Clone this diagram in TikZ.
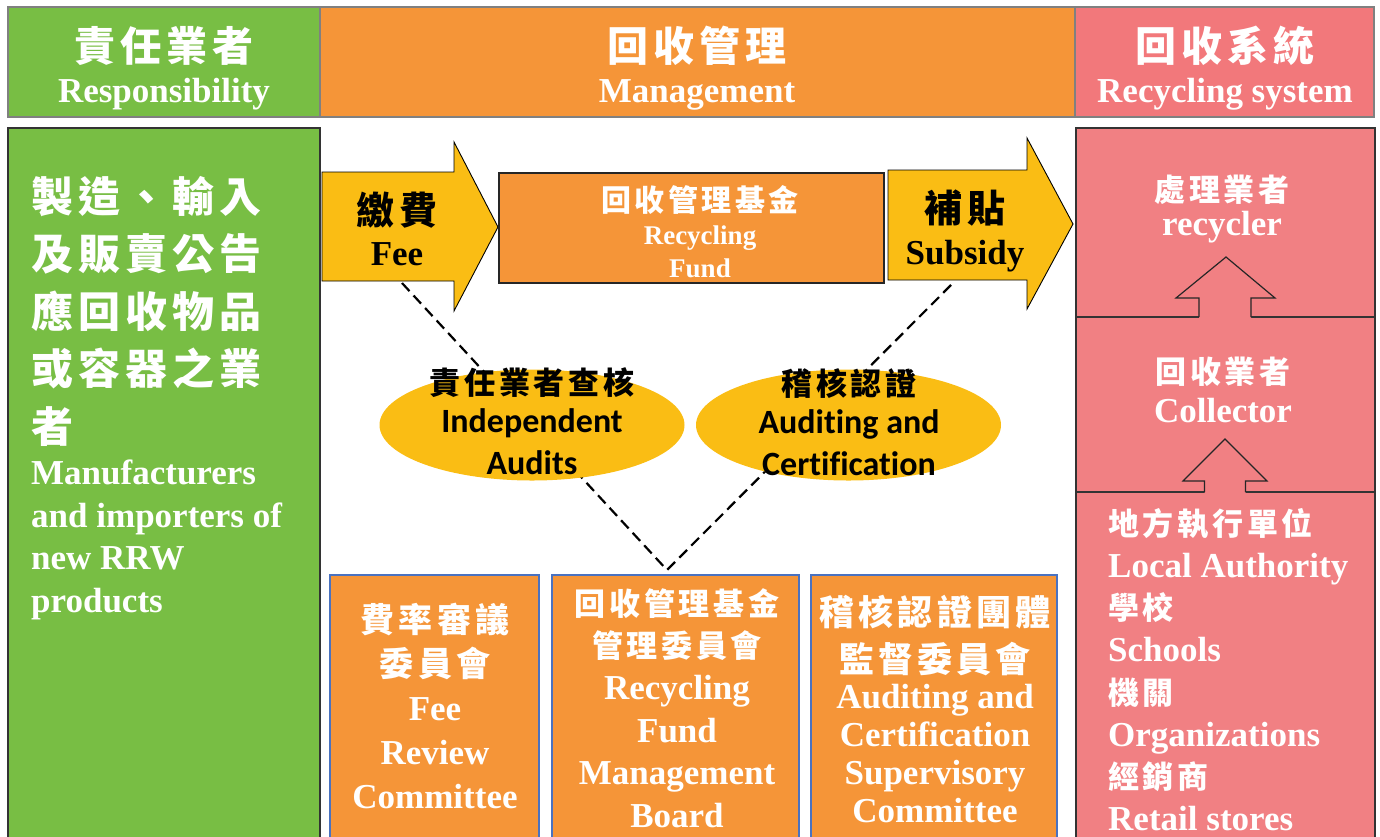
\documentclass[tikz,border=0pt]{standalone}
\usepackage{fontspec}
\setmainfont{Liberation Serif}
\newfontfamily\cjk{Noto Sans CJK TC}[LetterSpace=12]
\newfontfamily\calib{Carlito}[Ligatures=NoCommon]
\usetikzlibrary{shapes.geometric}

\definecolor{respgreen}{HTML}{78BE44}
\definecolor{mgmtorange}{HTML}{F59538}
\definecolor{hdrpink}{HTML}{F2787B}
\definecolor{syspink}{HTML}{F18083}
\definecolor{feeyellow}{HTML}{FABD14}
\definecolor{boardblue}{HTML}{4A72C0}

\newcommand{\zh}[2]{{\cjk\bfseries\fontsize{#1}{#1}\selectfont #2}}
\newcommand{\ensz}[2]{\bfseries\fontsize{#1}{#2}\selectfont}

\begin{document}
\begin{tikzpicture}[x=1pt, y=-1pt,
    box/.style={rectangle, draw, inner sep=0pt, outer sep=0pt},
    hdrbox/.style={box, draw=black!50, line width=1.2pt, minimum height=110pt},
    bodybox/.style={box, draw=black!80, line width=1.4pt},
    boardbox/.style={box, draw=boardblue, line width=1.2pt, fill=mgmtorange, minimum height=275pt},
    yarrow/.style={draw=black, line width=0.9pt, fill=feeyellow, line join=miter},
    hollow/.style={draw=black!85, line width=1.2pt},
    audit/.style={ellipse, fill=feeyellow, inner sep=0pt, minimum width=305pt, minimum height=111pt},
    txt/.style={inner sep=0pt, anchor=north, align=center, text=white},
    dashline/.style={dash pattern=on 11pt off 6pt, line width=2.2pt}
  ]
    \clip (0,0) rectangle (1380,836);

    % header row
    \node[hdrbox, fill=respgreen, minimum width=312pt] (hresp) at (164,62) {};
    \node[hdrbox, fill=mgmtorange, minimum width=755pt] (hmgmt) at (697.5,62) {};
    \node[hdrbox, fill=hdrpink, minimum width=299pt] (hsys) at (1224.5,62) {};

    % side columns
    \node[bodybox, fill=respgreen, minimum width=312pt, minimum height=722pt] (maker) at (164,489) {};
    \node[bodybox, fill=syspink, minimum width=299pt, minimum height=189pt] (recycler) at (1225.5,222.5) {};
    \node[bodybox, fill=syspink, minimum width=299pt, minimum height=175pt] (collector) at (1225.5,404.5) {};
    \node[bodybox, fill=syspink, minimum width=299pt, minimum height=358pt] (local) at (1225.5,671) {};

    % hollow up arrows
    \fill[syspink] (1199,318.5) -- (1199,298) -- (1176,298) -- (1226,257) -- (1275,298) -- (1251,298) -- (1251,318.5) -- cycle;
    \draw[hollow] (1199,317) -- (1199,298) -- (1176,298) -- (1226,257) -- (1275,298) -- (1251,298) -- (1251,317);
    \fill[syspink] (1204.5,493.5) -- (1204.5,481) -- (1183,481) -- (1225,439) -- (1267,481) -- (1245.5,481) -- (1245.5,493.5) -- cycle;
    \draw[hollow] (1204.5,492) -- (1204.5,481) -- (1183,481) -- (1225,439) -- (1267,481) -- (1245.5,481) -- (1245.5,492);

    % committees
    \node[boardbox, minimum width=209pt] (feeboard) at (434.5,712.5) {};
    \node[boardbox, minimum width=247pt] (fundboard) at (675.5,712.5) {};
    \node[boardbox, minimum width=246pt] (auditboard) at (934,712.5) {};

    % fee and subsidy arrows
    \draw[yarrow] (322,172) -- (454,172) -- (454,142) -- (498,227) -- (454,311) -- (454,281) -- (322,281) -- cycle;
    \draw[yarrow] (888,170) -- (1027,170) -- (1027,138) -- (1073,224) -- (1027,309) -- (1027,280) -- (888,280) -- cycle;

    \node[bodybox, draw=black!85, line width=1.2pt, fill=mgmtorange, minimum width=385pt, minimum height=110pt] (fund) at (691.5,228) {};

    % audit links
    \coordinate (feefoot) at (402,283);
    \coordinate (subfoot) at (953,283);
    \coordinate (meet) at (667,570);
    \draw[dashline] (feefoot) -- (meet) -- (subfoot);

    \node[audit] (indep) at (532,425) {};
    \node[audit] (certif) at (848.5,425) {};

    % texts
    \node[txt, font=\ensz{35}{41}] (hresp-t) at (164,26) {\zh{41}{責任業者}\\Responsibility};
    \node[txt, font=\ensz{35}{41}] (hmgmt-t) at (697,26) {\zh{41}{回收管理}\\Management};
    \node[txt, font=\ensz{35}{41}] (hsys-t) at (1225,26) {\zh{41}{回收系統}\\Recycling system};

    \node[txt, anchor=north west, align=left, font=\ensz{35}{42.5}] (maker-t) at (31,176)
      {\zh{42}{製造、輸入}\\[15pt]\zh{42}{及販賣公告}\\[15pt]\zh{42}{應回收物品}\\[15pt]\zh{42}{或容器之業}\\[15pt]\zh{42}{者}\\
       Manufacturers\\and importers of\\new RRW\\products};

    \node[txt, text=black, font=\ensz{35}{41}] (fee-t) at (397,192) {\zh{38}{繳費}\\Fee};
    \node[txt, text=black, font=\ensz{35}{42}] (sub-t) at (965,190) {\zh{38}{補貼}\\Subsidy};
    \node[txt, font=\ensz{27}{33}] (fund-t) at (700,185) {\zh{30}{回收管理基金}\\Recycling\\Fund};

    \node[txt, text=black, font=\calib\ensz{34}{42}] (indep-t) at (532,367) {\zh{31}{責任業者查核}\\[-4pt]Independent\\Audits};
    \node[txt, text=black, font=\calib\ensz{34}{42}] (certif-t) at (849,368) {\zh{31}{稽核認證}\\[-4pt]Auditing and\\Certification};

    \node[txt, font=\ensz{35}{34}] (recycler-t) at (1222,175) {\zh{31}{處理業者}\\recycler};
    \node[txt, font=\ensz{35}{39}] (collector-t) at (1223,357) {\zh{31}{回收業者}\\Collector};
    \node[txt, anchor=north west, align=left, font=\ensz{35}{42.2}] (local-t) at (1108,508)
      {\zh{31}{地方執行單位}\\Local Authority\\\zh{31}{學校}\\Schools\\\zh{31}{機關}\\Organizations\\\zh{31}{經銷商}\\Retail stores};

    \node[txt, font=\ensz{35}{44}] (feeboard-t) at (435,603)
      {\zh{34}{費率審議}\\\zh{34}{委員會}\\Fee\\Review\\Committee};
    \node[txt, font=\ensz{35}{42.4}] (fundboard-t) at (677,588)
      {\zh{31}{回收管理基金}\\\zh{31}{管理委員會}\\Recycling\\Fund\\Management\\Board};
    \node[txt, font=\ensz{35}{38}] (auditboard-t) at (935,595)
      {\zh{35}{稽核認證團體}\\[9pt]\zh{35}{監督委員會}\\[-2pt]Auditing and\\Certification\\Supervisory\\Committee};
\end{tikzpicture}
\end{document}
